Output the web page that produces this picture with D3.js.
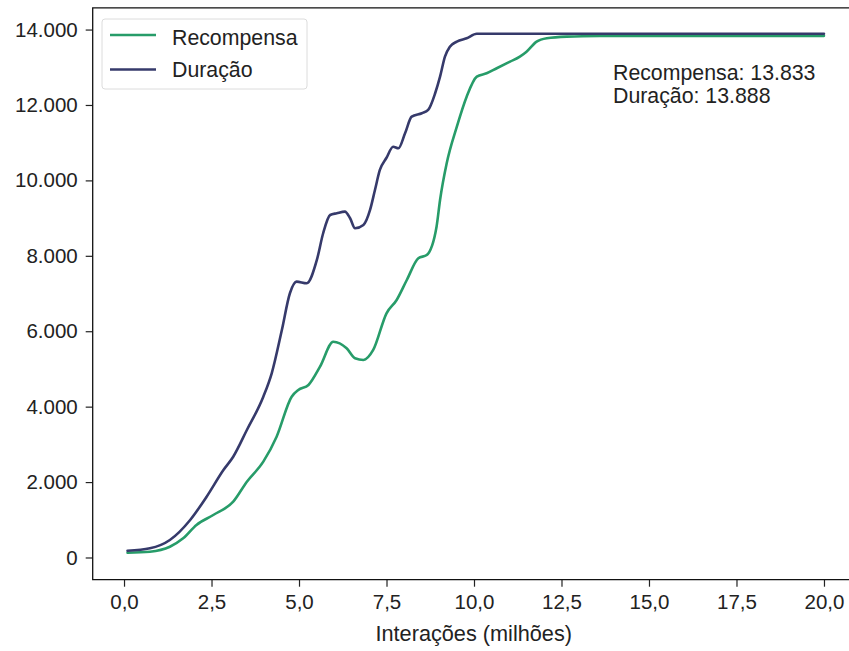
<!DOCTYPE html>
<html>
<head>
<meta charset="utf-8">
<script src="https://cdn.jsdelivr.net/npm/d3@7"></script>
<style>
  html, body { margin: 0; padding: 0; background: #fff; }
  svg { display: block; font-family: "Liberation Sans", Arial, sans-serif; }
</style>
</head>
<body>
<svg id="chart" width="849" height="651"></svg>
<script>
// ---- Data (x in millions of iterations) ----
const duracaoX = [0.1, 0.74, 1.31, 1.89, 2.36, 2.84, 3.12, 3.51, 3.98, 4.22, 4.51, 4.74, 4.93, 5.22, 5.51, 5.69, 5.89, 6.08, 6.31, 6.46, 6.6, 6.84, 7.03, 7.17, 7.31, 7.5, 7.69, 7.84, 8.03, 8.22, 8.51, 8.69, 8.89, 9.03, 9.17, 9.31, 9.51, 9.79, 10.08, 12.0, 15.0, 20.0];
const duracaoY = [180, 244, 464, 995, 1612, 2320, 2673, 3381, 4264, 4885, 6033, 7007, 7315, 7272, 7890, 8598, 9083, 9128, 9171, 8996, 8731, 8818, 9216, 9746, 10277, 10600, 10894, 10852, 11250, 11690, 11780, 11868, 12310, 12751, 13282, 13547, 13680, 13769, 13888, 13888, 13888, 13888];

const recompensaX = [0.1, 0.74, 1.31, 1.69, 2.07, 2.55, 3.12, 3.51, 3.98, 4.36, 4.79, 4.98, 5.27, 5.6, 5.98, 6.36, 6.6, 6.84, 7.12, 7.5, 7.79, 8.08, 8.41, 8.65, 8.93, 9.03, 9.22, 9.51, 9.79, 10.08, 10.36, 10.65, 11.03, 11.31, 11.5, 11.79, 12.08, 12.65, 13.6, 15.0, 20.0];
const recompensaY = [127, 154, 286, 509, 862, 1127, 1480, 2010, 2541, 3204, 4264, 4442, 4575, 5060, 5723, 5548, 5283, 5238, 5503, 6476, 6829, 7359, 7935, 8022, 8773, 9481, 10454, 11425, 12220, 12751, 12840, 12973, 13150, 13282, 13414, 13680, 13769, 13813, 13830, 13833, 13833];

const xTicks = [0, 2.5, 5, 7.5, 10, 12.5, 15, 17.5, 20];
const yTicks = [0, 2000, 4000, 6000, 8000, 10000, 12000, 14000];
const seriesNames = ["Recompensa", "Duração"];
const seriesColors = ["#279c69", "#363a6b"];
const annotationLines = ["Recompensa: 13.833", "Duração: 13.888"];
const xLabel = "Interações (milhões)";

// ---- Layout ----
const svg = d3.select("#chart");
const L = 92.7, R = 858.8, T = 7.8, B = 579.7;

const x = d3.scaleLinear().domain([-0.895, 20.995]).range([L, R]);
const y = d3.scaleLinear().domain([-589, 14577]).range([B, T]);

const fmtX = d => d.toFixed(1).replace(".", ",");
const fmtY = d => d === 0 ? "0" : d3.format(",")(d).replace(/,/g, ".");

const tickFont = 20.5;
const textFont = 21.3;

// clip
svg.append("defs").append("clipPath").attr("id", "clip")
  .append("rect").attr("x", L).attr("y", T).attr("width", R - L).attr("height", B - T);

// lines
const line = d3.line().x(d => x(d[0])).y(d => y(d[1])).curve(d3.curveMonotoneX);
const series = [
  d3.zip(recompensaX, recompensaY),
  d3.zip(duracaoX, duracaoY)
];
svg.append("g").attr("clip-path", "url(#clip)")
  .selectAll("path").data(series).join("path")
  .attr("d", line)
  .attr("fill", "none")
  .attr("stroke", (d, i) => seriesColors[i])
  .attr("stroke-width", 2.6)
  .attr("stroke-linejoin", "round")
  .attr("stroke-linecap", "round");

// axes
const xAxis = svg.append("g").attr("transform", `translate(0,${B})`)
  .call(d3.axisBottom(x).tickValues(xTicks).tickFormat(fmtX).tickSize(7).tickPadding(8));
const yAxis = svg.append("g").attr("transform", `translate(${L},0)`)
  .call(d3.axisLeft(y).tickValues(yTicks).tickFormat(fmtY).tickSize(7).tickPadding(8));
[xAxis, yAxis].forEach(a => {
  a.select(".domain").remove();
  a.selectAll("line").attr("stroke", "#222").attr("stroke-width", 1.2);
  a.selectAll("text").attr("fill", "#222").style("font-size", tickFont + "px")
   .style("font-family", "'Liberation Sans', Arial, sans-serif");
});

// spines (left, bottom, top; right is off-canvas)
svg.append("path")
  .attr("d", `M${R},${T}H${L}V${B}H${R}`)
  .attr("fill", "none").attr("stroke", "#111").attr("stroke-width", 1.3);

// x label
svg.append("text")
  .attr("x", (L + R) / 2 - 2).attr("y", 641)
  .attr("text-anchor", "middle")
  .attr("fill", "#222")
  .style("font-size", (textFont + 0.4) + "px")
  .text(xLabel);

// legend
const lg = svg.append("g");
lg.append("rect")
  .attr("x", 102).attr("y", 19).attr("width", 205).attr("height", 70)
  .attr("rx", 3).attr("fill", "#fff").attr("fill-opacity", 0.85)
  .attr("stroke", "#dcdcdc").attr("stroke-width", 1);
seriesNames.forEach((name, i) => {
  const cy = 35 + i * 34.5;
  lg.append("line")
    .attr("x1", 110).attr("x2", 156).attr("y1", cy).attr("y2", cy)
    .attr("stroke", seriesColors[i]).attr("stroke-width", 2.6);
  lg.append("text")
    .attr("x", 172).attr("y", 45 + i * 32)
    .attr("fill", "#222")
    .style("font-size", textFont + "px")
    .text(name);
});

// annotation
annotationLines.forEach((t, i) => {
  svg.append("text")
    .attr("x", 613).attr("y", 80 + i * 23)
    .attr("fill", "#222")
    .style("font-size", textFont + "px")
    .text(t);
});
</script>
</body>
</html>
